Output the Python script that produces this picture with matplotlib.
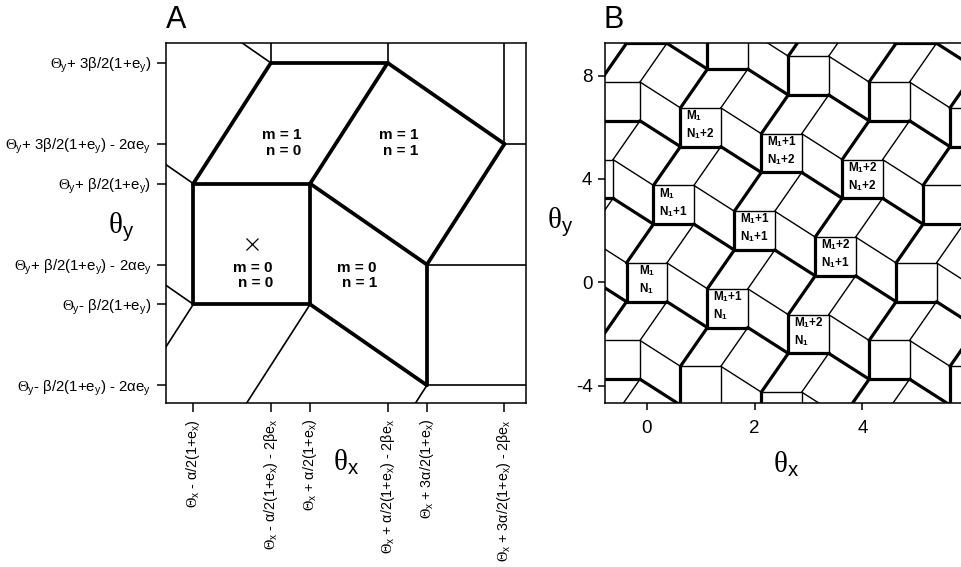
import matplotlib

matplotlib.use("Agg")
import matplotlib.pyplot as plt  # noqa: E402
from matplotlib.collections import LineCollection  # noqa: E402

plt.rcParams["font.family"] = "Liberation Sans"
plt.rcParams["axes.unicode_minus"] = False
plt.rcParams["mathtext.fontset"] = "custom"
plt.rcParams["mathtext.rm"] = "Liberation Serif"
plt.rcParams["mathtext.sf"] = "Liberation Sans"
plt.rcParams["mathtext.it"] = "Liberation Serif:italic"
plt.rcParams["mathtext.bf"] = "Liberation Sans:bold"

# --- panel A: tiling geometry (square w x h, shear offsets dx, dy)
A_W, A_H, A_DX, A_DY = 116.7, 120.7, 77.5, -81.0
A_XLIM = (-27.3, 332.4)
A_YLIM = (-98.7, 261.3)

A_XTICKLABELS = [
    r"$\Theta_\mathregular{x}$ - α/2(1+e$_\mathregular{x}$)",
    r"$\Theta_\mathregular{x}$ - α/2(1+e$_\mathregular{x}$) - 2βe$_\mathregular{x}$",
    r"$\Theta_\mathregular{x}$ + α/2(1+e$_\mathregular{x}$)",
    r"$\Theta_\mathregular{x}$ + α/2(1+e$_\mathregular{x}$) - 2βe$_\mathregular{x}$",
    r"$\Theta_\mathregular{x}$ + 3α/2(1+e$_\mathregular{x}$)",
    r"$\Theta_\mathregular{x}$ + 3α/2(1+e$_\mathregular{x}$) - 2βe$_\mathregular{x}$",
]
A_YTICKLABELS = [
    r"$\Theta_\mathregular{y}$- β/2(1+e$_\mathregular{y}$) - 2αe$_\mathregular{y}$",
    r"$\Theta_\mathregular{y}$- β/2(1+e$_\mathregular{y}$)",
    r"$\Theta_\mathregular{y}$+ β/2(1+e$_\mathregular{y}$) - 2αe$_\mathregular{y}$",
    r"$\Theta_\mathregular{y}$+ β/2(1+e$_\mathregular{y}$)",
    r"$\Theta_\mathregular{y}$+ 3β/2(1+e$_\mathregular{y}$) - 2αe$_\mathregular{y}$",
    r"$\Theta_\mathregular{y}$+ 3β/2(1+e$_\mathregular{y}$)",
]
# region labels (text, right edge x, centre y)
A_REGIONS = ["m = 0\nn = 0", "m = 0\nn = 1", "m = 1\nn = 0", "m = 1\nn = 1"]
A_REGION_X = [79.4, 183.4, 107.7, 224.7]
A_REGION_Y = [28.7, 28.7, 161.0, 161.0]

# --- panel B: same tiling, real units
B_W, B_H, B_DX, B_DY = 0.75, 1.5, 0.5, -1.0
B_ORIGIN = (-0.375, -0.75)  # lower-left corner of the (M1, N1) square
B_XLIM = (-0.774, 5.94)
B_YLIM = (-4.67, 9.26)
B_XTICKS = [0, 2, 4]
B_YTICKS = [-4, 0, 4, 8]
B_M_LABELS = ["M$_\\mathregular{1}$", "M$_\\mathregular{1}$+1", "M$_\\mathregular{1}$+2"]
B_N_LABELS = ["N$_\\mathregular{1}$", "N$_\\mathregular{1}$+1", "N$_\\mathregular{1}$+2"]

THETA_X = r"$\mathrm{\theta}_\mathsf{x}$"
THETA_Y = r"$\mathrm{\theta}_\mathsf{y}$"


def cell_segments(ox, oy, w, h, dx, dy):
    """Edges of one unit cell: square + two sheared tiles + corner tile."""

    def v(i, j):
        return (ox + i * w + (dx if j == 2 else 0), oy + j * h + (dy if i == 2 else 0))

    bold = [(v(0, 0), v(1, 0)), (v(1, 0), v(2, 0)), (v(0, 0), v(0, 1)), (v(0, 1), v(0, 2))]
    fine = [(v(0, 1), v(1, 1)), (v(1, 0), v(1, 1)), (v(1, 1), v(1, 2)), (v(1, 1), v(2, 1))]
    outer = [(v(2, 0), v(2, 1)), (v(2, 1), v(2, 2)), (v(0, 2), v(1, 2)), (v(1, 2), v(2, 2))]
    return bold, fine, outer


def cell_origins(ox, oy, w, h, dx, dy, rng=range(-6, 9)):
    for i in rng:
        for j in rng:
            yield i, j, ox + i * 2 * w + j * dx, oy + i * dy + j * 2 * h


def style_axes(ax, ticklen):
    for s in ax.spines.values():
        s.set_linewidth(1.1)
    ax.tick_params(direction="out", length=ticklen, width=1.1, colors="black")


fig = plt.figure(figsize=(9.61, 5.67), dpi=100)

# ---------------- panel A
axA = fig.add_axes([166 / 961, 164 / 567, 360 / 961, 360 / 567])
thin, thick = [], []
for i, j, ox, oy in cell_origins(0, 0, A_W, A_H, A_DX, A_DY, range(-3, 4)):
    bold, fine, outer = cell_segments(ox, oy, A_W, A_H, A_DX, A_DY)
    if i == 0 and j == 0:
        thick += bold + fine + outer
    else:
        thin += bold + fine
axA.add_collection(LineCollection(thin, colors="black", linewidths=1.2, capstyle="round"))
axA.add_collection(LineCollection(thick, colors="black", linewidths=2.7, capstyle="round"))
axA.plot([A_W / 2], [A_H / 2], marker="x", color="black", markersize=9, mew=0.9)
for txt, x, y in zip(A_REGIONS, A_REGION_X, A_REGION_Y):
    axA.text(x, y, txt, ha="right", va="center", multialignment="right",
             fontsize=11, fontweight="bold", linespacing=1.15)
axA.set_xlim(*A_XLIM)
axA.set_ylim(*A_YLIM)
axA.set_xticks([0, A_DX, A_W, A_W + A_DX, 2 * A_W, 2 * A_W + A_DX])
axA.set_xticklabels(A_XTICKLABELS, rotation=90, fontsize=10.3)
axA.set_yticks([A_DY, 0, A_H + A_DY, A_H, 2 * A_H + A_DY, 2 * A_H])
axA.set_yticklabels(A_YTICKLABELS, fontsize=10.8)
style_axes(axA, 6.5)
axA.tick_params(axis="x", pad=5)
axA.tick_params(axis="y", pad=4)
axA.set_xlabel(THETA_X, fontsize=21)
axA.xaxis.set_label_coords(0.5, -0.125)
axA.set_ylabel(THETA_Y, fontsize=21, rotation=0, ha="center", va="center")
axA.yaxis.set_label_coords(-0.124, 0.489)
fig.text(166 / 961, 539 / 567, "A", fontsize=22, va="baseline", ha="left")

# ---------------- panel B
axB = fig.add_axes([605 / 961, 164 / 567, 362 / 961, 360 / 567])
thin, thick = [], []
for i, j, ox, oy in cell_origins(*B_ORIGIN, B_W, B_H, B_DX, B_DY):
    bold, fine, outer = cell_segments(ox, oy, B_W, B_H, B_DX, B_DY)
    thick += bold
    thin += fine
    if 0 <= i <= 2 and 0 <= j <= 2:
        axB.text(ox + B_W / 2, oy + B_H / 2 + 0.1, B_M_LABELS[i] + "\n" + B_N_LABELS[j],
                 ha="center", va="center", multialignment="left",
                 fontsize=8.5, fontweight="bold", linespacing=1.3)
axB.add_collection(LineCollection(thin, colors="black", linewidths=1.0, capstyle="round"))
axB.add_collection(LineCollection(thick, colors="black", linewidths=2.3, capstyle="round"))
axB.set_xlim(*B_XLIM)
axB.set_ylim(*B_YLIM)
axB.set_xticks(B_XTICKS)
axB.set_yticks(B_YTICKS)
axB.tick_params(labelsize=13.5)
style_axes(axB, 5)
axB.tick_params(axis="x", pad=7)
axB.tick_params(axis="y", pad=4)
axB.set_xlabel(THETA_X, fontsize=21)
axB.xaxis.set_label_coords(0.5, -0.13)
axB.set_ylabel(THETA_Y, fontsize=21, rotation=0, ha="center", va="center")
axB.yaxis.set_label_coords(-0.124, 0.503)
fig.text(604 / 961, 539 / 567, "B", fontsize=22, va="baseline", ha="left")

fig.savefig("out.png", dpi=100, facecolor="white")
plt.close(fig)
